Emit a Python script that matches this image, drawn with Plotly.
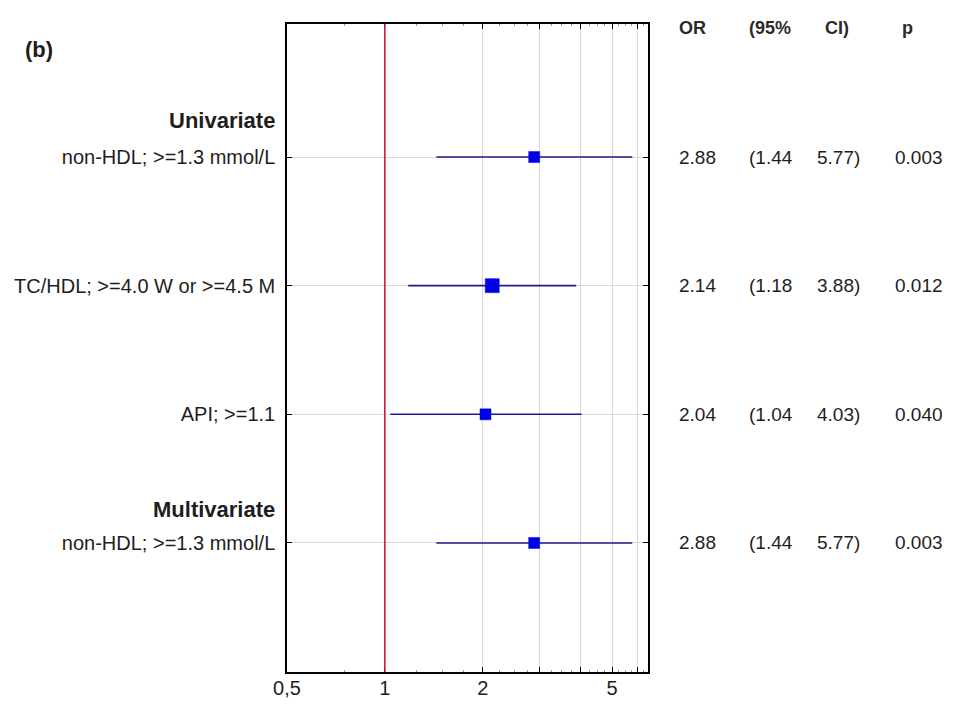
import math
import plotly.graph_objects as go

# ---- data ----
row_labels = ["non-HDL; >=1.3 mmol/L", "TC/HDL; >=4.0 W or >=4.5 M", "API; >=1.1", "non-HDL; >=1.3 mmol/L"]
group_headers = ["Univariate", "Multivariate"]
odds_ratio = [2.88, 2.14, 2.04, 2.88]
ci_low = [1.44, 1.18, 1.04, 1.44]
ci_high = [5.77, 3.88, 4.03, 5.77]
p_values = ["0.003", "0.012", "0.040", "0.003"]
marker_sizes = [11, 14, 11, 11]
x_tickvals = [0.5, 1, 2, 3, 4, 5, 6]
x_ticktext = ["0,5", "1", "2", "", "", "5", ""]
header_cols = ["OR", "(95%", "CI)", "p"]

W, H = 953, 704
L, R, T, B = 287, 648, 24, 672
pw = R - L
FONT = "Arial, Liberation Sans, sans-serif"
TXT = "#1e1e1e"

ypos = [1, 2, 3, 4]

def px2paper(px):
    return (px - L) / pw

fig = go.Figure()

# reference line at OR = 1
fig.add_shape(type="line", xref="x", yref="paper", x0=1, x1=1, y0=0, y1=1,
              line=dict(color="#c8102e", width=1.5), layer="above")

fig.add_trace(go.Scatter(
    x=odds_ratio, y=ypos, mode="markers",
    marker=dict(symbol="square", size=marker_sizes, color="#0000e6",
                opacity=1, line=dict(width=0.5, color="#0000e6")),
    error_x=dict(type="data", symmetric=False,
                 array=[h - o for h, o in zip(ci_high, odds_ratio)],
                 arrayminus=[o - l for o, l in zip(odds_ratio, ci_low)],
                 width=0, thickness=1.6, color="#1c1c8a"),
    showlegend=False, hoverinfo="skip"))

fig.update_xaxes(
    type="log", range=[math.log10(0.5), math.log10(6.45)],
    tickvals=x_tickvals, ticktext=x_ticktext,
    ticks="inside", ticklen=5, tickcolor="#000", tickwidth=1,
    showgrid=True, gridcolor="#d9d9d9", gridwidth=1,
    showline=True, linecolor="#000", linewidth=1.5, mirror="ticks",
    tickfont=dict(family=FONT, size=20, color=TXT),
    ticklabelstandoff=-3,
    minor=dict(ticks="inside", ticklen=2, tickcolor="#999",
               tickvals=[0.75, 1.25, 1.5, 1.75, 2.25, 2.5, 2.75, 3.25, 3.5, 3.75,
                         4.25, 4.5, 4.75, 5.25, 5.5, 5.75, 6.25],
               showgrid=False),
    automargin=False, zeroline=False, fixedrange=True)

fig.update_yaxes(
    range=[5.003, -0.034], tickvals=ypos, ticktext=row_labels,
    ticks="inside", ticklen=5, tickcolor="#000",
    showgrid=True, gridcolor="#d9d9d9", gridwidth=1,
    showline=True, linecolor="#000", linewidth=1.5, mirror="ticks",
    tickfont=dict(family=FONT, size=20, color=TXT),
    ticklabelstandoff=6, automargin=False, zeroline=False, fixedrange=True)

ann = []
# group headers
for text, yv in zip(group_headers, [1 - 0.285, 4 - 0.26]):
    ann.append(dict(text="<b>%s</b>" % text, xref="paper", yref="y",
                    x=px2paper(277), y=yv, xanchor="right", yanchor="middle",
                    showarrow=False, font=dict(family=FONT, size=22, color=TXT)))
# panel label
ann.append(dict(text="<b>(b)</b>", xref="paper", yref="paper",
                x=px2paper(23), y=1 - (50 - T) / (B - T), xanchor="left",
                yanchor="middle", showarrow=False,
                font=dict(family=FONT, size=22, color=TXT)))
# table header
col_px = [677, 747, 823, 900]
for text, cx in zip(header_cols, col_px):
    ann.append(dict(text="<b>%s</b>" % text, xref="paper", yref="paper",
                    x=px2paper(cx), y=1 - (28 - T) / (B - T), xanchor="left",
                    yanchor="middle", showarrow=False,
                    font=dict(family=FONT, size=18, color="#2a2a2a")))
# table rows
val_px = [677, 747, 815, 893]
for i, yv in enumerate(ypos):
    vals = ["%.2f" % odds_ratio[i], "(%.2f" % ci_low[i], "%.2f)" % ci_high[i], p_values[i]]
    for text, cx in zip(vals, val_px):
        ann.append(dict(text=text, xref="paper", yref="y",
                        x=px2paper(cx), y=yv, xanchor="left", yanchor="middle",
                        showarrow=False, font=dict(family=FONT, size=19, color=TXT)))

fig.update_layout(
    width=W, height=H, autosize=False,
    margin=dict(l=L, r=W - R, t=T, b=H - B, pad=0),
    plot_bgcolor="white", paper_bgcolor="white",
    annotations=ann, showlegend=False)

fig.write_html("out.html", config={"displayModeBar": False},
               post_script="document.body.style.margin='0px';document.body.style.padding='0px';")
